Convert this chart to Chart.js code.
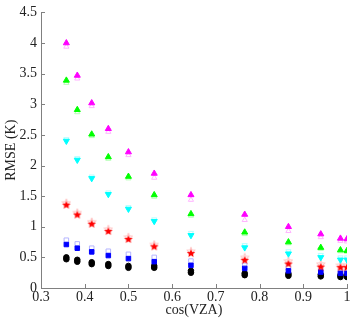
<!DOCTYPE html>
<html>
<head>
<meta charset="utf-8">
<script src="https://cdn.jsdelivr.net/npm/chart.js@4.4.0/dist/chart.umd.min.js"></script>
<style>
  html, body { margin: 0; padding: 0; background: #fff; }
  #wrap { width: 354px; height: 319px; }
</style>
</head>
<body>
<div id="wrap"><canvas id="rmseChart" width="354" height="319"></canvas></div>
<script>
// cos(VZA) positions of the columns
const cosVZA = [0.358, 0.383, 0.416, 0.454, 0.5, 0.559, 0.643, 0.766, 0.866, 0.94, 0.985, 1.0];

// filled markers
const magenta = [4.0, 3.47, 3.02, 2.6, 2.22, 1.87, 1.52, 1.2, 1.0, 0.88, 0.81, 0.8];
const green   = [3.39, 2.91, 2.51, 2.14, 1.82, 1.52, 1.21, 0.91, 0.75, 0.66, 0.62, 0.61];
const cyan    = [2.4, 2.09, 1.79, 1.53, 1.29, 1.09, 0.86, 0.66, 0.56, 0.5, 0.46, 0.46];
const red     = [1.36, 1.2, 1.05, 0.93, 0.8, 0.68, 0.57, 0.46, 0.4, 0.35, 0.34, 0.34];
const blue    = [0.71, 0.65, 0.59, 0.53, 0.48, 0.43, 0.37, 0.32, 0.28, 0.26, 0.24, 0.24];
const black   = [0.47, 0.43, 0.39, 0.36, 0.33, 0.33, 0.25, 0.21, 0.2, 0.19, 0.18, 0.18];

// light open markers
const magentaOpen = [3.94, 3.42, 2.97, 2.55, 2.17, 1.8, 1.44, 1.11, 0.93, 0.83, 0.77, 0.76];
const greenOpen   = [3.35, 2.87, 2.48, 2.11, 1.79, 1.49, 1.18, 0.88, 0.73, 0.64, 0.6, 0.59];
const cyanOpen    = [2.43, 2.12, 1.82, 1.56, 1.32, 1.12, 0.9, 0.7, 0.6, 0.54, 0.5, 0.5];
const redOpen     = [1.39, 1.23, 1.08, 0.96, 0.83, 0.71, 0.6, 0.5, 0.44, 0.39, 0.37, 0.37];
const blueOpen    = [0.78, 0.72, 0.65, 0.6, 0.55, 0.5, 0.44, 0.37, 0.33, 0.3, 0.28, 0.28];
const black2      = [0.5, 0.46, 0.42, 0.39, 0.36, 0.36, 0.28, 0.24, 0.23, 0.22, 0.21, 0.21];

const xTicks = [0.3, 0.4, 0.5, 0.6, 0.7, 0.8, 0.9, 1];
const yTicks = [0, 0.5, 1, 1.5, 2, 2.5, 3, 3.5, 4, 4.5];

function pts(ys) {
    return ys.map((y, i) => ({ x: cosVZA[i], y: y }));
}

// pentagram marker like matlab's 'p'
function makeStar(fill, stroke) {
    const c = document.createElement('canvas');
    c.width = 10; c.height = 10;
    const g = c.getContext('2d');
    g.beginPath();
    for (let i = 0; i < 10; i++) {
        const r = i % 2 === 0 ? 4.5 : 1.9;
        const a = -Math.PI / 2 + i * Math.PI / 5;
        const px = 5 + r * Math.cos(a), py = 5.4 + r * Math.sin(a);
        if (i === 0) g.moveTo(px, py); else g.lineTo(px, py);
    }
    g.closePath();
    if (fill) { g.fillStyle = fill; g.fill(); }
    if (stroke) { g.strokeStyle = stroke; g.lineWidth = 1; g.stroke(); }
    return c;
}

function series(label, ys, style, color, opts) {
    return Object.assign({
        label: label,
        data: pts(ys),
        pointStyle: style,
        pointRadius: 3.5,
        backgroundColor: color,
        borderColor: color,
        borderWidth: 1,
        showLine: false,
        order: 1
    }, opts || {});
}

// inward tick marks
const inwardTicks = {
    id: 'inwardTicks',
    afterDraw(chart) {
        const { ctx, chartArea, scales } = chart;
        ctx.save();
        ctx.strokeStyle = '#808080';
        ctx.lineWidth = 1;
        ctx.beginPath();
        xTicks.forEach(v => {
            const px = Math.round(scales.x.getPixelForValue(v)) + 0.5;
            ctx.moveTo(px, chartArea.bottom);
            ctx.lineTo(px, chartArea.bottom - 4);
        });
        yTicks.forEach(v => {
            const py = Math.round(scales.y.getPixelForValue(v)) + 0.5;
            ctx.moveTo(chartArea.left, py);
            ctx.lineTo(chartArea.left + 4, py);
        });
        ctx.stroke();
        ctx.restore();
    }
};

const font = { family: '"Liberation Serif", "Times New Roman", serif', size: 14 };

new Chart(document.getElementById('rmseChart'), {
    type: 'scatter',
    data: {
        datasets: [
            series('magenta open', magentaOpen, 'triangle', '#ffb4ff', { backgroundColor: 'rgba(0,0,0,0)', pointRadius: 3, order: 2 }),
            series('green open', greenOpen, 'triangle', '#b4ffb4', { backgroundColor: 'rgba(0,0,0,0)', pointRadius: 3, order: 2 }),
            series('cyan open', cyanOpen, 'triangle', '#b4ffff', { backgroundColor: 'rgba(0,0,0,0)', pointRadius: 3, rotation: 180, order: 2 }),
            series('red open', redOpen, makeStar(null, '#ffc0c0'), '#ffc0c0', { order: 2 }),
            series('blue open', blueOpen, 'rect', '#b4b4ff', { backgroundColor: 'rgba(0,0,0,0)', pointRadius: 3.2, order: 2 }),
            series('black 2', black2, 'circle', '#000000', { pointRadius: 2.8, order: 2 }),
            series('magenta', magenta, 'triangle', '#ff00ff'),
            series('green', green, 'triangle', '#00ff00'),
            series('cyan', cyan, 'triangle', '#00ffff', { rotation: 180 }),
            series('red', red, makeStar('#ff0000', null), '#ff0000'),
            series('blue', blue, 'rect', '#0000ff', { pointRadius: 3.2 }),
            series('black', black, 'circle', '#000000', { pointRadius: 2.8 })
        ]
    },
    options: {
        responsive: false,
        animation: false,
        layout: { padding: { top: 7, right: 7, left: 0, bottom: 0 } },
        plugins: {
            legend: { display: false },
            tooltip: { enabled: false }
        },
        scales: {
            x: {
                type: 'linear',
                min: 0.3,
                max: 1,
                afterBuildTicks: s => { s.ticks = xTicks.map(v => ({ value: v })); },
                afterFit: s => { s.height = 31; },
                grid: { display: false, drawTicks: false },
                border: { display: true, color: '#808080' },
                ticks: {
                    font: font,
                    color: '#222',
                    padding: 1,
                    maxRotation: 0,
                    callback: v => String(Math.round(v * 10) / 10)
                },
                title: {
                    display: true,
                    text: 'cos(VZA)',
                    font: font,
                    color: '#222',
                    padding: 0
                }
            },
            y: {
                type: 'linear',
                min: 0,
                max: 4.5,
                afterBuildTicks: s => { s.ticks = yTicks.map(v => ({ value: v })); },
                afterFit: s => { s.width = 41; },
                grid: { display: false, drawTicks: false },
                border: { display: true, color: '#808080' },
                ticks: {
                    font: font,
                    color: '#222',
                    padding: 4,
                    callback: v => String(v)
                },
                title: {
                    display: true,
                    text: 'RMSE (K)',
                    font: font,
                    color: '#222',
                    padding: { top: 3, bottom: 0 }
                }
            }
        }
    },
    plugins: [inwardTicks]
});
</script>
</body>
</html>
